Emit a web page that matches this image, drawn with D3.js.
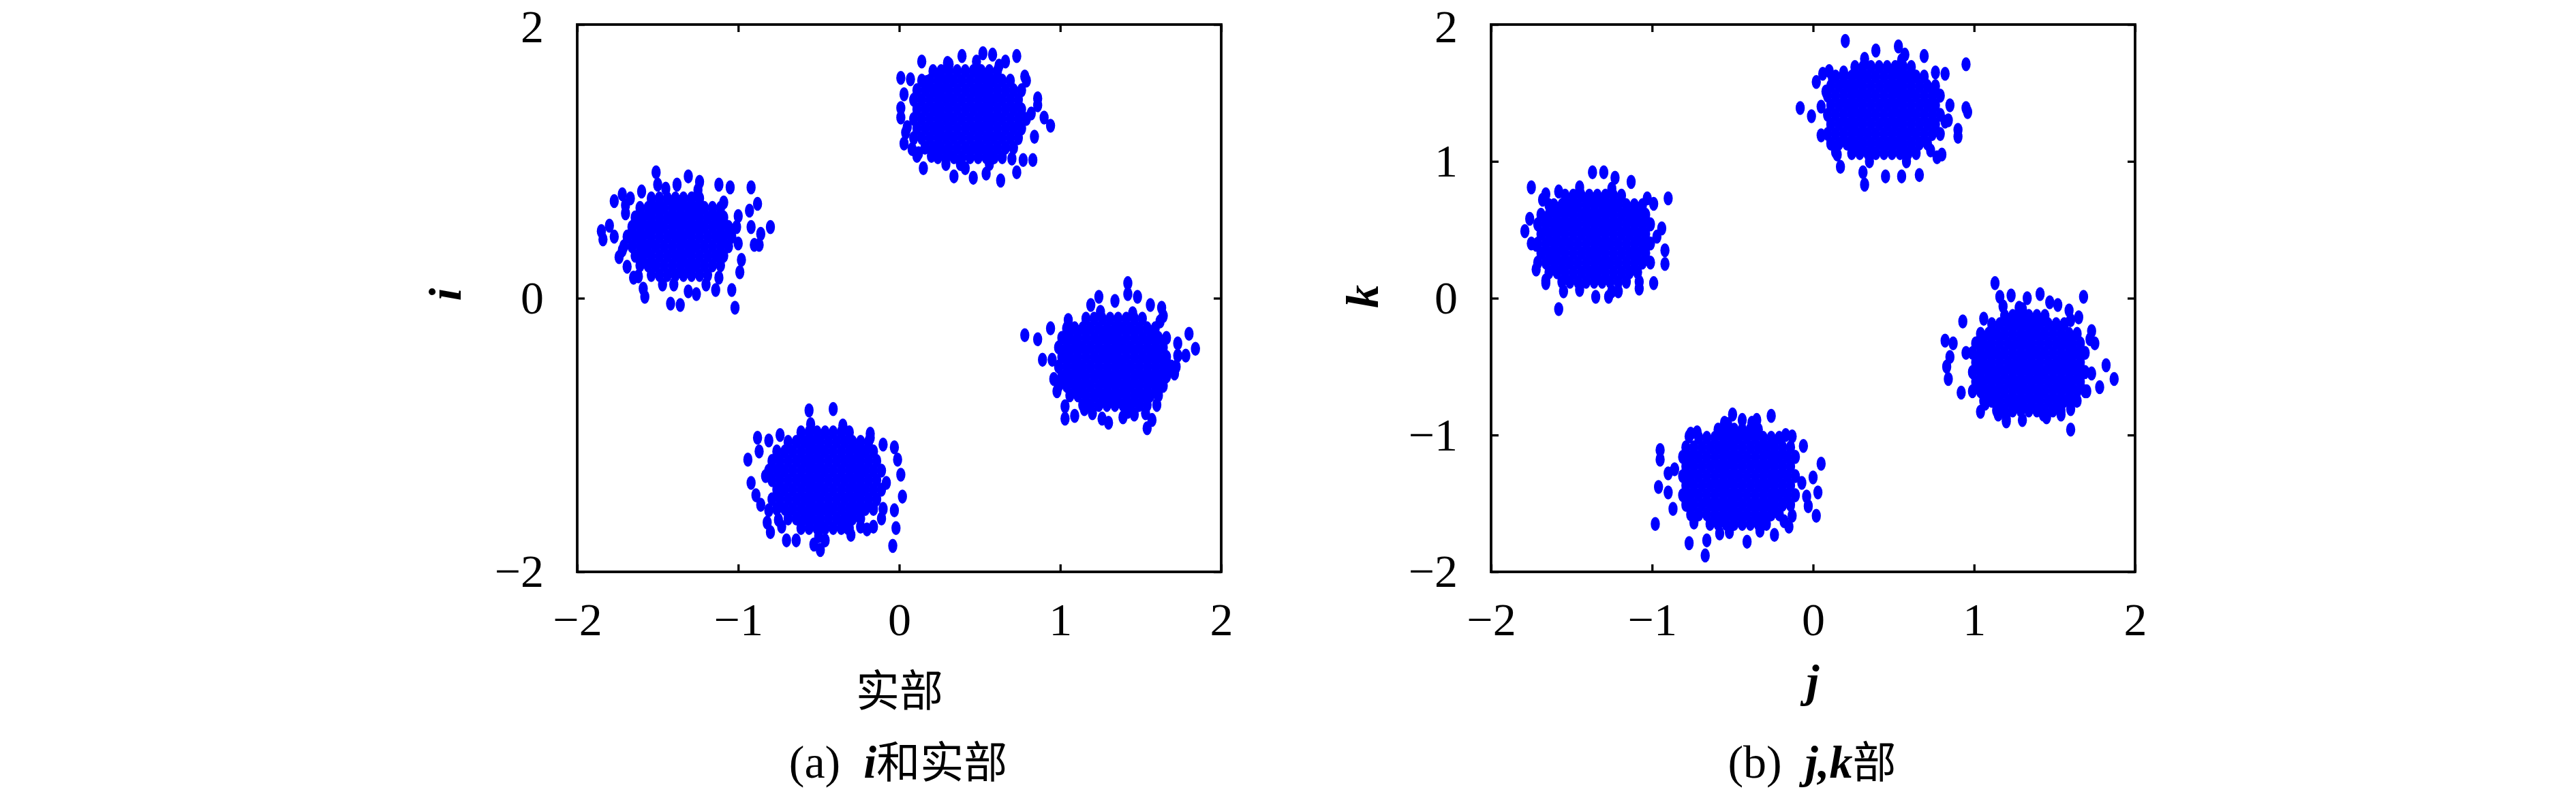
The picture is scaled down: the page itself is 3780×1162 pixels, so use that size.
<!DOCTYPE html>
<html><head><meta charset="utf-8">
<script src="https://cdn.jsdelivr.net/npm/d3@7"></script>
<style>body{margin:0;background:#fff}</style>
</head><body>
<svg id="c" width="3780" height="1162" xmlns="http://www.w3.org/2000/svg"></svg>
<script>
// ---------- tick values / labels ----------
const xTickVals = [-2, -1, 0, 1, 2];
const yTickValsA = [-2, 0, 2];
const yTickValsB = [-2, -1, 0, 1, 2];
const xTitleA = "实部";
const yTitleA = "i";
const xTitleB = "j";
const yTitleB = "k";

// ---------- panel (a): real part vs i ----------
// dense cores, one row per line: [y, x1, x2, ...]
const coreLA = [
[0.17,-1.54,-1.49,-1.44,-1.39,-1.34,-1.29,-1.24,-1.19],
[0.24,-1.61,-1.56,-1.51,-1.46,-1.41,-1.36,-1.31,-1.26,-1.21,-1.16,-1.11],
[0.31,-1.64,-1.59,-1.54,-1.49,-1.44,-1.39,-1.34,-1.29,-1.24,-1.19,-1.14,-1.09],
[0.38,-1.71,-1.66,-1.61,-1.56,-1.51,-1.46,-1.41,-1.36,-1.31,-1.26,-1.21,-1.16,-1.11,-1.06],
[0.45,-1.69,-1.64,-1.59,-1.54,-1.49,-1.44,-1.39,-1.34,-1.29,-1.24,-1.19,-1.14,-1.09,-1.04],
[0.52,-1.66,-1.61,-1.56,-1.51,-1.46,-1.41,-1.36,-1.31,-1.26,-1.21,-1.16,-1.11,-1.06,-1.01],
[0.59,-1.64,-1.59,-1.54,-1.49,-1.44,-1.39,-1.34,-1.29,-1.24,-1.19,-1.14,-1.09],
[0.66,-1.61,-1.56,-1.51,-1.46,-1.41,-1.36,-1.31,-1.26,-1.21,-1.16,-1.11],
[0.73,-1.54,-1.49,-1.44,-1.39,-1.34,-1.29,-1.24]
];
const outLA = [[-1.51,0.92],[-1.50,0.83],[-1.77,0.71],[-1.72,0.76],[-1.85,0.49],[-1.84,0.43],[-1.80,0.53],[-1.77,0.45],[-1.69,0.23],[-1.59,0.07],[-1.58,0.01],[-1.42,-0.04],[-1.36,-0.05],[-1.31,0.05],[-1.26,0.03],[-1.14,0.06],[-1.04,0.06],[-1.02,-0.07],[-0.99,0.19],[-0.98,0.28],[-0.90,0.39],[-0.87,0.39],[-0.86,0.47],[-0.80,0.52],[-0.92,0.52],[-0.93,0.64],[-0.88,0.69],[-0.92,0.81],[-1.05,0.81],[-1.12,0.83],[-1.24,0.85],[-1.31,0.89],[-1.38,0.83],[-1.60,0.78],[-1.67,0.73],[-1.72,0.35],[-1.70,0.62],[-1.47,0.10],[-1.00,0.60],[-1.45,0.80],[-1.65,0.15],
[-1.62,0.16],[-1.12,0.15],[-1.70,0.68],[-1.09,0.70],[-1.25,0.79],[-1.40,0.10],[-1.20,0.10],[-1.74,0.30],[-1.00,0.40]];

const coreLB = [
[1.03,0.24,0.29,0.34,0.39,0.44,0.49,0.54,0.59,0.64],
[1.10,0.16,0.21,0.26,0.31,0.36,0.41,0.46,0.51,0.56,0.61,0.66,0.71],
[1.17,0.09,0.14,0.19,0.24,0.29,0.34,0.39,0.44,0.49,0.54,0.59,0.64,0.69,0.74],
[1.24,0.11,0.16,0.21,0.26,0.31,0.36,0.41,0.46,0.51,0.56,0.61,0.66,0.71,0.76],
[1.31,0.09,0.14,0.19,0.24,0.29,0.34,0.39,0.44,0.49,0.54,0.59,0.64,0.69,0.74,0.79],
[1.38,0.11,0.16,0.21,0.26,0.31,0.36,0.41,0.46,0.51,0.56,0.61,0.66,0.71,0.76],
[1.45,0.09,0.14,0.19,0.24,0.29,0.34,0.39,0.44,0.49,0.54,0.59,0.64,0.69,0.74],
[1.52,0.11,0.16,0.21,0.26,0.31,0.36,0.41,0.46,0.51,0.56,0.61,0.66,0.71,0.76],
[1.59,0.14,0.19,0.24,0.29,0.34,0.39,0.44,0.49,0.54,0.59,0.64,0.69],
[1.66,0.26,0.31,0.36,0.41,0.46,0.51,0.56,0.61]
];
const outLB = [[0.14,1.73],[0.01,1.61],[0.03,1.49],[0.01,1.39],[0.01,1.32],[0.04,1.21],[0.03,1.13],[0.08,1.09],[0.11,1.04],[0.15,0.95],[0.20,1.04],[0.29,0.98],[0.34,0.89],[0.41,0.95],[0.46,0.88],[0.54,0.91],[0.63,0.86],[0.73,0.92],[0.77,1.01],[0.83,1.01],[0.84,1.18],[0.90,1.32],[0.94,1.26],[0.86,1.46],[0.86,1.41],[0.79,1.59],[0.73,1.77],[0.66,1.73],[0.58,1.78],[0.52,1.79],[0.48,1.73],[0.39,1.77],[0.31,1.71],[0.21,1.66],[0.17,1.58],
[0.12,1.06],[0.70,1.02],[0.07,1.60],[0.78,1.62],[0.30,1.72],[0.62,1.70],[0.38,0.98],[0.56,0.98],[0.05,1.25],[0.82,1.35]];

const coreLC = [
[-0.78,1.14,1.19,1.24,1.29,1.34,1.39,1.44,1.49,1.54],
[-0.71,1.06,1.11,1.16,1.21,1.26,1.31,1.36,1.41,1.46,1.51,1.56,1.61],
[-0.64,0.99,1.04,1.09,1.14,1.19,1.24,1.29,1.34,1.39,1.44,1.49,1.54,1.59,1.64],
[-0.57,1.01,1.06,1.11,1.16,1.21,1.26,1.31,1.36,1.41,1.46,1.51,1.56,1.61,1.66],
[-0.50,0.99,1.04,1.09,1.14,1.19,1.24,1.29,1.34,1.39,1.44,1.49,1.54,1.59,1.64,1.69],
[-0.43,1.01,1.06,1.11,1.16,1.21,1.26,1.31,1.36,1.41,1.46,1.51,1.56,1.61,1.66],
[-0.36,0.99,1.04,1.09,1.14,1.19,1.24,1.29,1.34,1.39,1.44,1.49,1.54,1.59,1.64],
[-0.29,1.01,1.06,1.11,1.16,1.21,1.26,1.31,1.36,1.41,1.46,1.51,1.56,1.61,1.66],
[-0.22,1.04,1.09,1.14,1.19,1.24,1.29,1.34,1.39,1.44,1.49,1.54,1.59],
[-0.15,1.16,1.21,1.26,1.31,1.36,1.41,1.46,1.51]
];
const outLC = [[1.42,0.11],[1.42,0.03],[1.48,0.01],[1.34,-0.02],[1.24,0.01],[1.19,-0.05],[1.56,-0.05],[1.63,-0.07],[1.64,-0.13],[1.80,-0.26],[1.84,-0.37],[1.78,-0.42],[1.73,-0.33],[1.73,-0.42],[1.71,-0.55],[0.78,-0.27],[0.86,-0.30],[0.94,-0.22],[0.89,-0.45],[0.96,-0.59],[0.98,-0.68],[1.03,-0.88],[1.09,-0.86],[1.15,-0.81],[1.26,-0.88],[1.30,-0.91],[1.39,-0.87],[1.46,-0.85],[1.53,-0.84],[1.57,-0.89],[1.54,-0.95],[1.60,-0.78],[1.61,-0.68],
[1.03,-0.79],[1.05,-0.16],[1.62,-0.17],[1.25,-0.10],[1.45,-0.11],[1.20,-0.84],[1.42,-0.83],[0.95,-0.45],[1.72,-0.50]];

const coreLD = [
[-1.68,-0.61,-0.56,-0.51,-0.46,-0.41,-0.36,-0.31],
[-1.61,-0.69,-0.64,-0.59,-0.54,-0.49,-0.44,-0.39,-0.34,-0.29,-0.24],
[-1.54,-0.76,-0.71,-0.66,-0.61,-0.56,-0.51,-0.46,-0.41,-0.36,-0.31,-0.26,-0.21,-0.16],
[-1.47,-0.79,-0.74,-0.69,-0.64,-0.59,-0.54,-0.49,-0.44,-0.39,-0.34,-0.29,-0.24,-0.19,-0.14],
[-1.40,-0.76,-0.71,-0.66,-0.61,-0.56,-0.51,-0.46,-0.41,-0.36,-0.31,-0.26,-0.21,-0.16,-0.11],
[-1.33,-0.79,-0.74,-0.69,-0.64,-0.59,-0.54,-0.49,-0.44,-0.39,-0.34,-0.29,-0.24,-0.19,-0.14],
[-1.26,-0.81,-0.76,-0.71,-0.66,-0.61,-0.56,-0.51,-0.46,-0.41,-0.36,-0.31,-0.26,-0.21,-0.16,-0.11],
[-1.19,-0.79,-0.74,-0.69,-0.64,-0.59,-0.54,-0.49,-0.44,-0.39,-0.34,-0.29,-0.24,-0.19,-0.14],
[-1.12,-0.76,-0.71,-0.66,-0.61,-0.56,-0.51,-0.46,-0.41,-0.36,-0.31,-0.26,-0.21,-0.16],
[-1.05,-0.69,-0.64,-0.59,-0.54,-0.49,-0.44,-0.39,-0.34,-0.29,-0.24,-0.19],
[-0.98,-0.61,-0.56,-0.51,-0.46,-0.41,-0.36,-0.31]
];
const outLD = [[-0.56,-0.82],[-0.41,-0.81],[-0.88,-1.02],[-0.81,-1.04],[-0.94,-1.18],[-0.87,-1.12],[-0.92,-1.35],[-0.89,-1.44],[-0.86,-1.51],[-0.81,-1.55],[-0.82,-1.64],[-0.80,-1.71],[-0.75,-1.62],[-0.70,-1.77],[-0.64,-1.77],[-0.53,-1.80],[-0.49,-1.84],[-0.46,-1.77],[-0.32,-1.68],[-0.24,-1.67],[-0.16,-1.67],[-0.11,-1.61],[-0.10,-1.54],[-0.03,-1.55],[-0.02,-1.68],[-0.04,-1.81],[0.02,-1.45],[0.01,-1.29],[-0.01,-1.18],[-0.03,-1.09],[-0.10,-1.07],[-0.18,-1.02],
[-0.73,-1.67],[-0.20,-1.69],[-0.74,-1.00],[-0.18,-0.99],[-0.55,-0.92],[-0.35,-0.93],[-0.50,-1.74],[-0.30,-1.73],[-0.83,-1.30],[-0.08,-1.35]];

// ---------- panel (b): j vs k ----------
const coreRA = [
[0.12,-1.56,-1.51,-1.46,-1.41,-1.36,-1.31,-1.26,-1.21,-1.16],
[0.19,-1.64,-1.59,-1.54,-1.49,-1.44,-1.39,-1.34,-1.29,-1.24,-1.19,-1.14,-1.09],
[0.26,-1.71,-1.66,-1.61,-1.56,-1.51,-1.46,-1.41,-1.36,-1.31,-1.26,-1.21,-1.16,-1.11,-1.06,-1.01],
[0.33,-1.69,-1.64,-1.59,-1.54,-1.49,-1.44,-1.39,-1.34,-1.29,-1.24,-1.19,-1.14,-1.09,-1.04],
[0.40,-1.71,-1.66,-1.61,-1.56,-1.51,-1.46,-1.41,-1.36,-1.31,-1.26,-1.21,-1.16,-1.11,-1.06,-1.01],
[0.47,-1.69,-1.64,-1.59,-1.54,-1.49,-1.44,-1.39,-1.34,-1.29,-1.24,-1.19,-1.14,-1.09,-1.04],
[0.54,-1.71,-1.66,-1.61,-1.56,-1.51,-1.46,-1.41,-1.36,-1.31,-1.26,-1.21,-1.16,-1.11,-1.06,-1.01],
[0.61,-1.69,-1.64,-1.59,-1.54,-1.49,-1.44,-1.39,-1.34,-1.29,-1.24,-1.19,-1.14,-1.09,-1.04],
[0.68,-1.61,-1.56,-1.51,-1.46,-1.41,-1.36,-1.31,-1.26,-1.21,-1.16,-1.11,-1.06],
[0.75,-1.54,-1.49,-1.44,-1.39,-1.34,-1.29,-1.24,-1.19]
];
const outRA = [[-1.75,0.81],[-1.79,0.49],[-1.76,0.58],[-1.72,0.39],[-1.72,0.21],[-1.66,0.13],[-1.58,-0.08],[-1.55,0.05],[-1.35,0.01],[-1.27,0.01],[-1.21,0.05],[-1.08,0.07],[-0.99,0.11],[-0.92,0.35],[-0.92,0.25],[-0.94,0.51],[-0.90,0.73],[-0.99,0.69],[-1.13,0.85],[-1.23,0.88],[-1.30,0.92],[-1.37,0.92],[-1.45,0.78],[-1.58,0.78],[-1.66,0.76],[-1.64,0.68],
[-1.66,0.11],[-1.08,0.12],[-1.68,0.72],[-1.03,0.73],[-1.45,0.81],[-1.25,0.80],[-1.45,0.06],[-1.25,0.05],[-1.75,0.40],[-0.97,0.45]];

const coreRB = [
[1.06,0.24,0.29,0.34,0.39,0.44,0.49,0.54,0.59,0.64],
[1.13,0.11,0.16,0.21,0.26,0.31,0.36,0.41,0.46,0.51,0.56,0.61,0.66,0.71],
[1.20,0.09,0.14,0.19,0.24,0.29,0.34,0.39,0.44,0.49,0.54,0.59,0.64,0.69,0.74,0.79],
[1.27,0.11,0.16,0.21,0.26,0.31,0.36,0.41,0.46,0.51,0.56,0.61,0.66,0.71,0.76],
[1.34,0.09,0.14,0.19,0.24,0.29,0.34,0.39,0.44,0.49,0.54,0.59,0.64,0.69,0.74,0.79],
[1.41,0.11,0.16,0.21,0.26,0.31,0.36,0.41,0.46,0.51,0.56,0.61,0.66,0.71,0.76],
[1.48,0.09,0.14,0.19,0.24,0.29,0.34,0.39,0.44,0.49,0.54,0.59,0.64,0.69,0.74,0.79],
[1.55,0.11,0.16,0.21,0.26,0.31,0.36,0.41,0.46,0.51,0.56,0.61,0.66,0.71,0.76],
[1.62,0.14,0.19,0.24,0.29,0.34,0.39,0.44,0.49,0.54,0.59,0.64,0.69],
[1.69,0.26,0.31,0.36,0.41,0.46,0.51,0.56,0.61]
];
const outRB = [[0.20,1.88],[0.39,1.81],[0.53,1.84],[0.57,1.78],[0.69,1.77],[0.95,1.71],[0.82,1.64],[0.02,1.58],[0.06,1.64],[0.12,1.61],[0.19,1.65],[-0.08,1.39],[-0.01,1.33],[0.05,1.19],[0.15,1.05],[0.17,0.96],[0.31,0.92],[0.32,0.83],[0.45,0.89],[0.55,0.89],[0.66,0.90],[0.77,1.03],[0.80,1.05],[0.90,1.23],[0.90,1.18],[0.95,1.39],[0.96,1.36],[0.85,1.41],[0.82,1.29],[0.08,1.51],
[0.14,1.07],[0.73,1.08],[0.10,1.66],[0.76,1.65],[0.32,1.75],[0.55,1.74],[0.35,1.00],[0.58,1.00],[0.05,1.40],[0.84,1.30]];

const coreRC = [
[-0.82,1.14,1.19,1.24,1.29,1.34,1.39,1.44,1.49,1.54],
[-0.75,1.06,1.11,1.16,1.21,1.26,1.31,1.36,1.41,1.46,1.51,1.56,1.61],
[-0.68,0.99,1.04,1.09,1.14,1.19,1.24,1.29,1.34,1.39,1.44,1.49,1.54,1.59,1.64,1.69],
[-0.61,1.01,1.06,1.11,1.16,1.21,1.26,1.31,1.36,1.41,1.46,1.51,1.56,1.61,1.66],
[-0.54,0.99,1.04,1.09,1.14,1.19,1.24,1.29,1.34,1.39,1.44,1.49,1.54,1.59,1.64,1.69],
[-0.47,1.01,1.06,1.11,1.16,1.21,1.26,1.31,1.36,1.41,1.46,1.51,1.56,1.61,1.66],
[-0.40,0.99,1.04,1.09,1.14,1.19,1.24,1.29,1.34,1.39,1.44,1.49,1.54,1.59,1.64,1.69],
[-0.33,1.01,1.06,1.11,1.16,1.21,1.26,1.31,1.36,1.41,1.46,1.51,1.56,1.61,1.66],
[-0.26,1.04,1.09,1.14,1.19,1.24,1.29,1.34,1.39,1.44,1.49,1.54,1.59,1.64],
[-0.19,1.11,1.16,1.21,1.26,1.31,1.36,1.41,1.46,1.51,1.56],
[-0.13,1.19,1.24,1.29,1.34,1.39,1.44]
];
const outRC = [[1.13,0.11],[1.16,0.01],[1.23,0.02],[1.33,0.00],[1.41,0.03],[1.68,0.01],[1.52,-0.05],[1.59,-0.09],[1.65,-0.14],[1.73,-0.24],[1.75,-0.33],[1.82,-0.49],[1.87,-0.59],[1.78,-0.65],[1.70,-0.68],[1.64,-0.75],[0.93,-0.17],[0.82,-0.31],[0.87,-0.33],[0.85,-0.43],[0.83,-0.50],[0.84,-0.59],[0.92,-0.69],[1.07,-0.77],[1.15,-0.85],[1.20,-0.90],[1.30,-0.89],[1.43,-0.85],[1.54,-0.85],[1.60,-0.96],[1.18,-0.06],[1.28,-0.07],[1.47,-0.03],
[1.04,-0.83],[1.60,-0.81],[1.06,-0.15],[1.60,-0.16],[1.30,-0.08],[1.20,-0.88],[1.45,-0.87],[0.95,-0.40],[1.73,-0.55],[1.72,-0.30]];

const coreRD = [
[-1.65,-0.64,-0.59,-0.54,-0.49,-0.44,-0.39,-0.34,-0.29],
[-1.58,-0.76,-0.71,-0.66,-0.61,-0.56,-0.51,-0.46,-0.41,-0.36,-0.31,-0.26,-0.21],
[-1.51,-0.79,-0.74,-0.69,-0.64,-0.59,-0.54,-0.49,-0.44,-0.39,-0.34,-0.29,-0.24,-0.19,-0.14],
[-1.44,-0.81,-0.76,-0.71,-0.66,-0.61,-0.56,-0.51,-0.46,-0.41,-0.36,-0.31,-0.26,-0.21,-0.16,-0.11],
[-1.37,-0.79,-0.74,-0.69,-0.64,-0.59,-0.54,-0.49,-0.44,-0.39,-0.34,-0.29,-0.24,-0.19,-0.14],
[-1.30,-0.81,-0.76,-0.71,-0.66,-0.61,-0.56,-0.51,-0.46,-0.41,-0.36,-0.31,-0.26,-0.21,-0.16,-0.11],
[-1.23,-0.79,-0.74,-0.69,-0.64,-0.59,-0.54,-0.49,-0.44,-0.39,-0.34,-0.29,-0.24,-0.19,-0.14],
[-1.16,-0.81,-0.76,-0.71,-0.66,-0.61,-0.56,-0.51,-0.46,-0.41,-0.36,-0.31,-0.26,-0.21,-0.16,-0.11],
[-1.09,-0.79,-0.74,-0.69,-0.64,-0.59,-0.54,-0.49,-0.44,-0.39,-0.34,-0.29,-0.24,-0.19,-0.14],
[-1.02,-0.71,-0.66,-0.61,-0.56,-0.51,-0.46,-0.41,-0.36,-0.31,-0.26,-0.21],
[-0.96,-0.59,-0.54,-0.49,-0.44,-0.39,-0.34]
];
const outRD = [[-0.50,-0.85],[-0.44,-0.89],[-0.35,-0.89],[-0.26,-0.86],[-0.53,-0.92],[-0.95,-1.11],[-0.95,-1.18],[-0.90,-1.28],[-0.96,-1.38],[-0.90,-1.42],[-0.87,-1.54],[-0.98,-1.65],[-0.77,-1.79],[-0.67,-1.88],[-0.66,-1.77],[-0.58,-1.72],[-0.41,-1.78],[-0.33,-1.69],[-0.24,-1.73],[-0.15,-1.67],[-0.13,-1.59],[-0.04,-1.45],[-0.03,-1.52],[0.02,-1.59],[0.03,-1.42],[0.05,-1.21],[0.00,-1.31],[-0.06,-1.08],[-0.13,-1.01],[-0.77,-1.01],[-0.72,-0.98],
[-0.74,-1.64],[-0.18,-1.63],[-0.76,-0.99],[-0.17,-1.00],[-0.55,-0.91],[-0.38,-0.91],[-0.52,-1.71],[-0.33,-1.70],[-0.86,-1.25],[-0.07,-1.35]];

// ---------- drawing ----------
const svg = d3.select("#c");
const plotTop = 36, plotBottom = 839;
const fmt = d => d < 0 ? "\u2212" + Math.abs(d) : String(d);
const serif = "'Liberation Serif','Times New Roman',serif";
const cjk = "'Noto Sans CJK SC','Noto Sans CJK JP',sans-serif";
const rowsToPts = rows => rows.flatMap(r => r.slice(1).map(x => [x, r[0]]));

const panels = [
  {left: 847, right: 1792, cores: [coreLA, coreLB, coreLC, coreLD], outs: [outLA, outLB, outLC, outLD], yTicks: yTickValsA},
  {left: 2188, right: 3133, cores: [coreRA, coreRB, coreRC, coreRD], outs: [outRA, outRB, outRC, outRD], yTicks: yTickValsB}
];

panels.forEach(p => {
  const x = d3.scaleLinear().domain([-2, 2]).range([p.left, p.right]);
  const y = d3.scaleLinear().domain([-2, 2]).range([plotBottom, plotTop]);
  const pts = p.cores.flatMap(rowsToPts).concat(p.outs.flat());
  const g = svg.append("g");
  g.append("g").selectAll("ellipse").data(pts).join("ellipse")
    .attr("cx", d => x(d[0])).attr("cy", d => y(d[1]))
    .attr("rx", 6.7).attr("ry", 10.3).attr("fill", "#0000ff");

  const styleAxis = a => {
    a.select(".domain").remove();
    a.selectAll("line").attr("stroke", "#000").attr("stroke-width", 3.3);
    a.selectAll("text").attr("font-family", serif).attr("font-size", 68).attr("fill", "#000");
  };
  g.append("g").attr("transform", `translate(0,${plotBottom})`)
    .call(d3.axisBottom(x).tickValues(xTickVals).tickSizeInner(-11).tickSizeOuter(0).tickPadding(45).tickFormat(fmt))
    .call(styleAxis);
  g.append("g").attr("transform", `translate(0,${plotTop})`)
    .call(d3.axisTop(x).tickValues(xTickVals).tickSizeInner(-11).tickSizeOuter(0).tickFormat(""))
    .call(styleAxis);
  g.append("g").attr("transform", `translate(${p.left},0)`)
    .call(d3.axisLeft(y).tickValues(p.yTicks).tickSizeInner(-11).tickSizeOuter(0).tickPadding(49).tickFormat(fmt))
    .call(styleAxis)
    .call(a => a.selectAll(".tick text").filter(d => d === 2).attr("dy", "0.37em"));
  g.append("g").attr("transform", `translate(${p.right},0)`)
    .call(d3.axisRight(y).tickValues(p.yTicks).tickSizeInner(-11).tickSizeOuter(0).tickFormat(""))
    .call(styleAxis);
  g.append("rect").attr("x", p.left).attr("y", plotTop)
    .attr("width", p.right - p.left).attr("height", plotBottom - plotTop)
    .attr("fill", "none").attr("stroke", "#000").attr("stroke-width", 3.8);
});

// axis titles
svg.append("text").attr("x", 1320).attr("y", 1036).attr("text-anchor", "middle")
  .attr("font-family", cjk).attr("font-size", 64).text(xTitleA);
svg.append("text").attr("x", 2660).attr("y", 1022).attr("text-anchor", "middle")
  .attr("font-family", serif).attr("font-size", 68).attr("font-weight", "bold").attr("font-style", "italic").text(xTitleB);
svg.append("text").attr("transform", "translate(676,432) rotate(-90)").attr("text-anchor", "middle")
  .attr("font-family", serif).attr("font-size", 68).attr("font-weight", "bold").attr("font-style", "italic").text(yTitleA);
svg.append("text").attr("transform", "translate(2022,435) rotate(-90)").attr("text-anchor", "middle")
  .attr("font-family", serif).attr("font-size", 68).attr("font-weight", "bold").attr("font-style", "italic").text(yTitleB);

// captions
function caption(cx, parts) {
  const t = svg.append("text").attr("x", cx).attr("y", 1141).attr("text-anchor", "middle");
  parts.forEach(([s, kind]) => {
    const ts = t.append("tspan").text(s);
    if (kind === "cjk") ts.attr("font-family", cjk).attr("font-size", 64);
    else if (kind === "bi") ts.attr("font-family", serif).attr("font-size", 68).attr("font-weight", "bold").attr("font-style", "italic");
    else ts.attr("font-family", serif).attr("font-size", 68);
  });
}
caption(1318, [["(a)\u00a0\u00a0", "r"], ["i", "bi"], ["和实部", "cjk"]]);
caption(2659, [["(b)\u00a0\u00a0", "r"], ["j,k", "bi"], ["部", "cjk"]]);
</script>
</body></html>
